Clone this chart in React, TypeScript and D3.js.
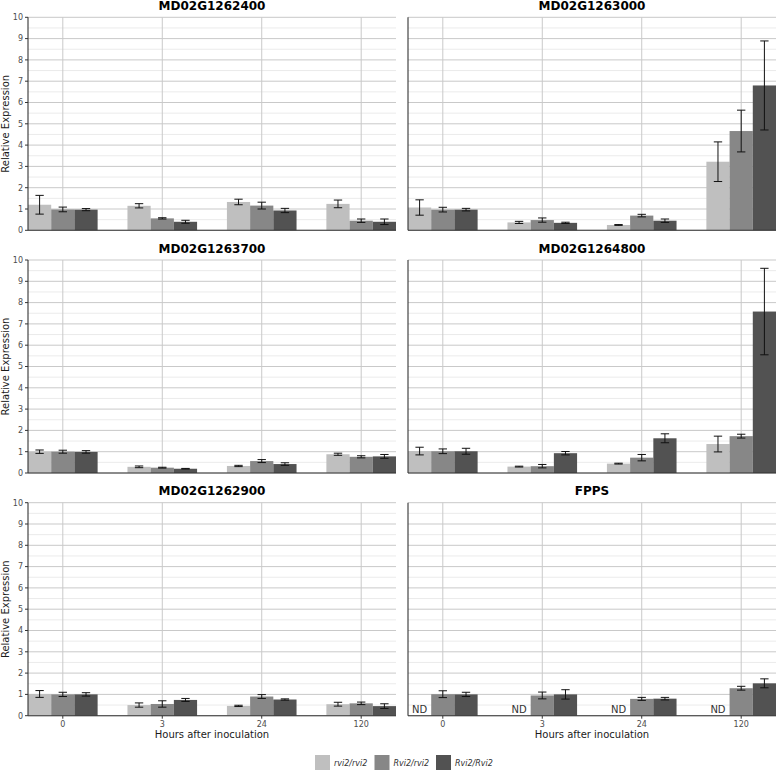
import React from "react";
import * as d3 from "d3";

// data
const times = ["0", "3", "24", "120"];
const genotypes = ["rvi2/rvi2", "Rvi2/rvi2", "Rvi2/Rvi2"];
const genes = ["MD02G1262400", "MD02G1263000", "MD02G1263700", "MD02G1264800", "MD02G1262900", "FPPS"];

// mean per genotype (rows) x time (cols); null = not detected
const mean1262400 = [[1.2, 1.15, 1.33, 1.24], [0.98, 0.56, 1.16, 0.45], [0.97, 0.4, 0.93, 0.4]];
const se1262400 = [[0.44, 0.1, 0.13, 0.18], [0.11, 0.03, 0.16, 0.08], [0.05, 0.07, 0.1, 0.13]];

const mean1263000 = [[1.07, 0.37, 0.25, 3.22], [0.97, 0.48, 0.69, 4.66], [0.97, 0.35, 0.45, 6.8]];
const se1263000 = [[0.36, 0.05, 0.02, 0.93], [0.11, 0.1, 0.06, 0.98], [0.06, 0.03, 0.08, 2.09]];

const mean1263700 = [[1.0, 0.29, 0.33, 0.88], [1.0, 0.25, 0.56, 0.76], [0.99, 0.2, 0.42, 0.78]];
const se1263700 = [[0.08, 0.04, 0.03, 0.05], [0.07, 0.02, 0.07, 0.05], [0.06, 0.015, 0.06, 0.09]];

const mean1264800 = [[1.03, 0.3, 0.44, 1.36], [1.02, 0.32, 0.72, 1.73], [1.02, 0.93, 1.63, 7.58]];
const se1264800 = [[0.18, 0.02, 0.02, 0.37], [0.11, 0.08, 0.15, 0.09], [0.14, 0.08, 0.21, 2.03]];

const mean1262900 = [[1.02, 0.5, 0.46, 0.54], [1.0, 0.55, 0.9, 0.58], [1.0, 0.74, 0.76, 0.45]];
const se1262900 = [[0.16, 0.1, 0.03, 0.09], [0.1, 0.15, 0.09, 0.06], [0.08, 0.07, 0.03, 0.11]];

const meanFPPS: (number | null)[][] = [[null, null, null, null], [1.01, 0.95, 0.79, 1.29], [1.0, 1.0, 0.8, 1.52]];
const seFPPS: (number | null)[][] = [[null, null, null, null], [0.16, 0.16, 0.07, 0.09], [0.1, 0.22, 0.06, 0.21]];

const means: (number | null)[][][] = [mean1262400, mean1263000, mean1263700, mean1264800, mean1262900, meanFPPS];
const ses: (number | null)[][][] = [se1262400, se1263000, se1263700, se1264800, se1262900, seFPPS];

const yTicks = [0, 1, 2, 3, 4, 5, 6, 7, 8, 9, 10];

const fills = ["#bfbfbf", "#878787", "#525252"];
const font = "DejaVu Sans, sans-serif";

const colX = [28, 408];
const rowY = [17.3, 260, 502.7];
const panelW = 368;
const panelH = 213;

const Panel: React.FC<{ idx: number }> = ({ idx }) => {
  const col = idx % 2;
  const row = Math.floor(idx / 2);
  const left = colX[col];
  const top = rowY[row];
  const bottom = top + panelH;
  const right = left + panelW;

  const x = d3.scalePoint<string>().domain(times).range([left, right]).padding(0.35);
  const groupW = x.step() * 0.7;
  const sub = d3.scaleBand<string>().domain(genotypes).range([-groupW / 2, groupW / 2]);
  const y = d3.scaleLinear().domain([0, 10]).range([bottom, top]);
  const minor = d3.range(0.5, 10, 1);
  const capW = sub.bandwidth() * 0.36;

  return (
    <g>
      {/* grid */}
      {minor.map((v) => (
        <line key={"mi" + v} x1={left} x2={right} y1={y(v)} y2={y(v)} stroke="#ebebeb" strokeWidth={1} />
      ))}
      {yTicks.map((v) => (
        <line key={"ma" + v} x1={left} x2={right} y1={y(v)} y2={y(v)} stroke="#c9c9c9" strokeWidth={1} />
      ))}
      {times.map((t) => (
        <line key={"v" + t} x1={x(t)} x2={x(t)} y1={top} y2={bottom} stroke="#c9c9c9" strokeWidth={1} />
      ))}

      {/* bars */}
      {genotypes.map((g, gi) =>
        times.map((t, ti) => {
          const m = means[idx][gi][ti];
          const bx = (x(t) as number) + (sub(g) as number);
          if (m === null) {
            return (
              <text key={g + t} x={bx + sub.bandwidth() / 2} y={bottom - 2.8} textAnchor="middle"
                fontFamily={font} fontSize={10} fill="#333">ND</text>
            );
          }
          return <rect key={g + t} x={bx} y={y(m)} width={sub.bandwidth()} height={y(0) - y(m)} fill={fills[gi]} />;
        })
      )}

      {/* error bars */}
      {genotypes.map((g, gi) =>
        times.map((t, ti) => {
          const m = means[idx][gi][ti];
          const s = ses[idx][gi][ti];
          if (m === null || s === null) return null;
          const cx = (x(t) as number) + (sub(g) as number) + sub.bandwidth() / 2;
          return (
            <g key={"e" + g + t} stroke="#111" strokeWidth={1}>
              <line x1={cx} x2={cx} y1={y(m + s)} y2={y(m - s)} />
              <line x1={cx - capW / 2} x2={cx + capW / 2} y1={y(m + s)} y2={y(m + s)} />
              <line x1={cx - capW / 2} x2={cx + capW / 2} y1={y(m - s)} y2={y(m - s)} />
            </g>
          );
        })
      )}

      {/* axes */}
      <line x1={left} x2={left} y1={top} y2={bottom} stroke="#333" strokeWidth={1.1} />
      <line x1={left} x2={right} y1={bottom} y2={bottom} stroke="#333" strokeWidth={1.1} />
      {col === 0 &&
        yTicks.map((v) => (
          <g key={"yt" + v}>
            <line x1={left - 3} x2={left} y1={y(v)} y2={y(v)} stroke="#333" />
            <text x={left - 5} y={y(v)} dy="0.35em" textAnchor="end" fontFamily={font} fontSize={8} fill="#4d4d4d">{v}</text>
          </g>
        ))}
      {row === 2 &&
        times.map((t) => (
          <g key={"xt" + t}>
            <line x1={x(t)} x2={x(t)} y1={bottom} y2={bottom + 3} stroke="#333" />
            <text x={x(t)} y={bottom + 11} textAnchor="middle" fontFamily={font} fontSize={8} fill="#4d4d4d">{t}</text>
          </g>
        ))}
      {row === 2 && (
        <text x={(left + right) / 2} y={738} textAnchor="middle" fontFamily={font} fontSize={10} fill="#1a1a1a">
          Hours after inoculation
        </text>
      )}
      {col === 0 && (
        <text transform={`translate(8.5,${(top + bottom) / 2}) rotate(-90)`} textAnchor="middle"
          fontFamily={font} fontSize={10} fill="#1a1a1a">Relative Expression</text>
      )}
      <text x={(left + right) / 2} y={top - 7.3} textAnchor="middle" fontFamily={font} fontSize={12}
        fontWeight="bold" fill="#000">{genes[idx]}</text>
    </g>
  );
};

const legendKeyX = [315, 374.5, 436];

export default function App() {
  return (
    <svg width={777} height={771} style={{ position: "absolute", left: 0, top: 0, background: "#fff" }}>
      <rect width={777} height={771} fill="#fff" />
      {genes.map((g, i) => (
        <Panel key={g} idx={i} />
      ))}
      {genotypes.map((g, i) => (
        <g key={g}>
          <rect x={legendKeyX[i]} y={755} width={15} height={15} fill={fills[i]} />
          <text x={legendKeyX[i] + 19} y={765.5} fontFamily={font} fontSize={8} fontStyle="italic" fill="#333">{g}</text>
        </g>
      ))}
    </svg>
  );
}
